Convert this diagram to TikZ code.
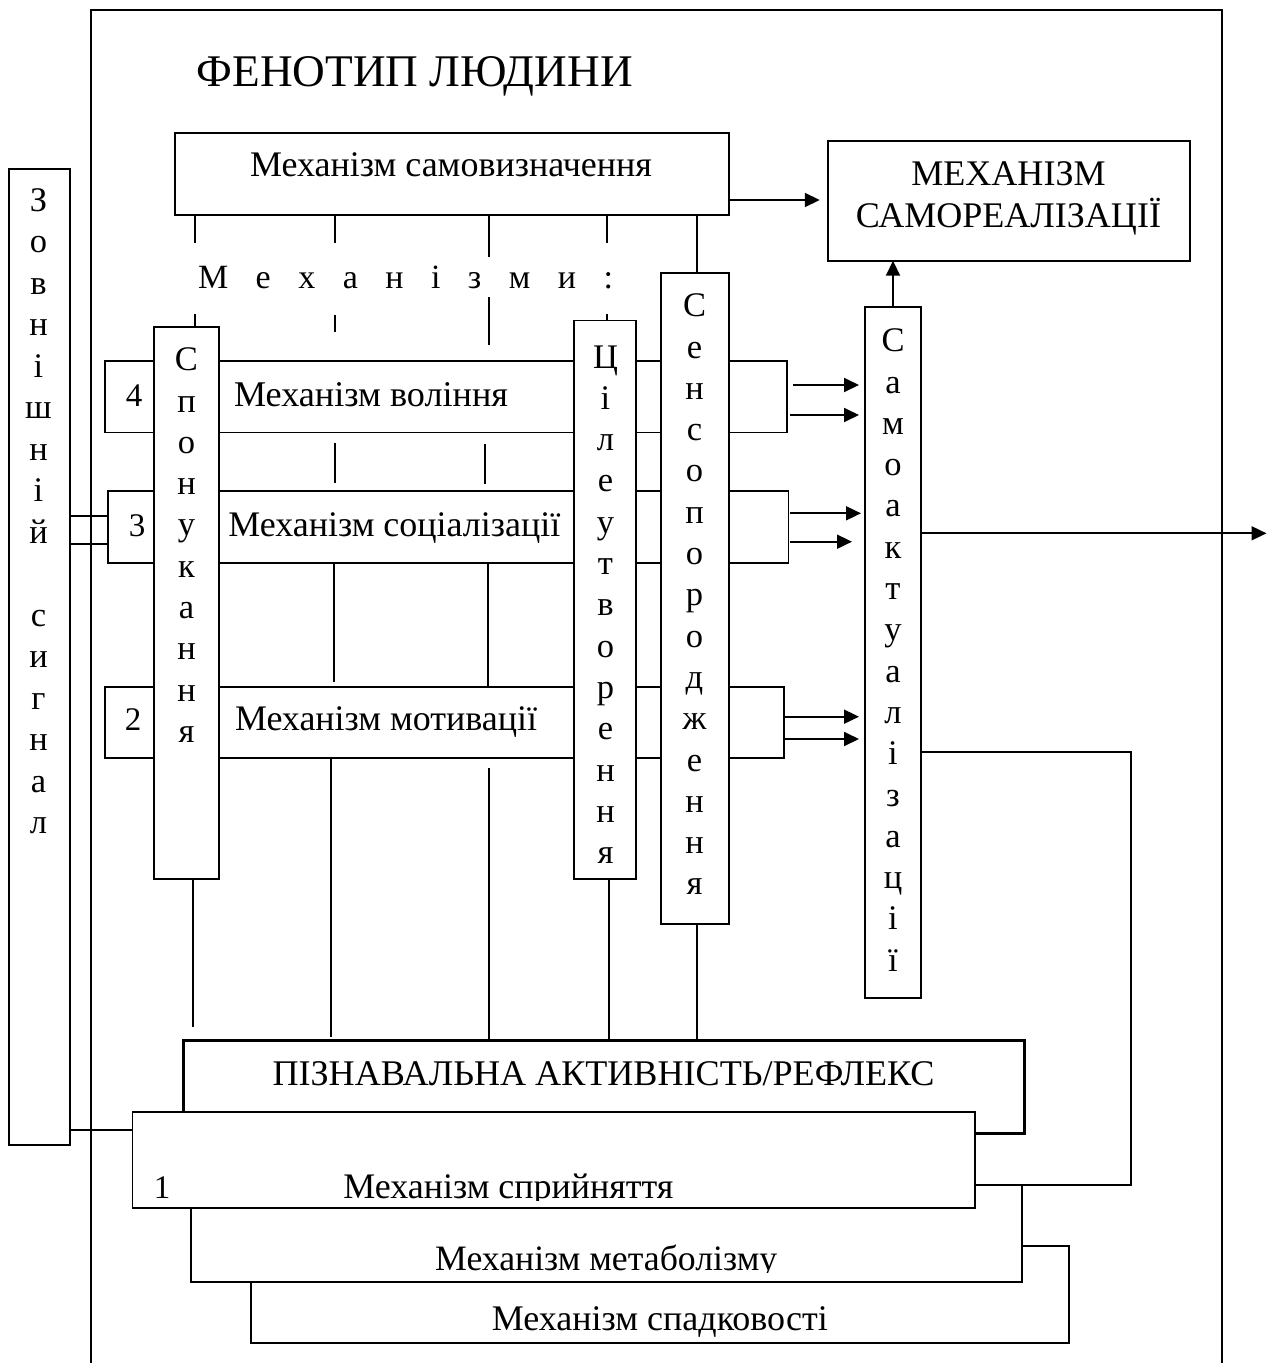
\documentclass[tikz,border=0pt]{standalone}
\usepackage{fontspec}
\setmainfont{Liberation Serif}[Script=Cyrillic]
\usepackage{graphicx}
\usetikzlibrary{arrows.meta,calc}

\tikzset{
  ln/.style={line width=1.8pt},
  box/.style={draw,line width=1.8pt,inner sep=0pt,outer sep=0pt,fill=white},
  txt/.style={inner sep=0pt,outer sep=0pt},
  vtxt/.style={txt,anchor=base,font=\fontsize{34.5}{41.3}\selectfont},
  num/.style={txt,anchor=base,font=\fontsize{33}{40}\selectfont},
  arr/.style={ln,-{Triangle[length=15pt,width=14pt]}},
}
\newcommand\rbox[6][]{\node[box,#1,anchor=north west,minimum width={(#5-#3)*1pt},minimum height={(#6-#4)*1pt}] (#2) at (#3,#4) {};}
\newcommand\fitw[2]{\resizebox{#1pt}{!}{\fontsize{30}{36}\selectfont #2}}
\newcommand\vstack[1]{\begin{tabular}[t]{@{}c@{}}#1\end{tabular}}

\begin{document}
\begin{tikzpicture}[x=1pt,y=-1pt]
\useasboundingbox (0,0) rectangle (1267,1363);

% outer frame
\draw[ln] (91,1363) -- (91,10) -- (1222,10) -- (1222,1363);
\node[txt,anchor=base west] (title) at (196.7,86) {\fitw{436}{ФЕНОТИП ЛЮДИНИ}};

% top boxes
\rbox{sd}{175.3}{133}{728.8}{215}
\rbox{sr}{827.8}{140.7}{1190}{260.7}

% horizontal mechanism boxes
\rbox[fill=none]{b4}{105.3}{360.7}{786.8}{432.5}
\rbox[fill=none]{b3}{108}{490.7}{788.5}{563.3}
\rbox[fill=none]{b2}{105}{686.7}{784.3}{758.3}

% vertical boxes
\rbox{zs}{9}{169.3}{69.7}{1145}
\rbox{sp}{154}{327}{219.3}{879.3}
\rbox{ct}{574}{320.5}{635.7}{879.3}
\rbox{ss}{660.7}{273}{728.6}{924}
\rbox{sa}{865}{306.7}{921}{997.7}

% bottom stack
\rbox{spad}{251}{1246}{1069}{1342.7}
\rbox{met}{191}{1185}{1022.3}{1281.7}
\rbox[line width=3pt]{piz}{183.2}{1040.7}{1024.8}{1133.3}
\rbox{spr}{132.4}{1112.3}{974.7}{1208.3}

% texts
\node[txt,anchor=base west] (sdt) at (250,176.7) {\fitw{402}{Механізм самовизначення}};
\node[txt,anchor=base] (srt) at (1008.5,185) {\resizebox{305pt}{!}{\fontsize{30}{35}\selectfont\begin{tabular}[t]{@{}c@{}}МЕХАНІЗМ\\САМОРЕАЛІЗАЦІЇ\end{tabular}}};
\node[txt,anchor=base west,font=\fontsize{34}{40}\selectfont] (mech) at (198,288.3)
  {\makebox[415pt][s]{М\hfill е\hfill х\hfill а\hfill н\hfill і\hfill з\hfill м\hfill и\hfill :}};

\node[num] (n4) at (134,406) {4};
\node[txt,anchor=base west] (b4t) at (234,406) {\fitw{274}{Механізм воління}};
\node[num] (n3) at (137,536) {3};
\node[txt,anchor=base west] (b3t) at (228.3,536) {\fitw{332}{Механізм соціалізації}};
\node[num] (n2) at (133,730) {2};
\node[txt,anchor=base west] (b2t) at (235,730) {\fitw{302}{Механізм мотивації}};

\node[vtxt,font=\fontsize{34.5}{41.5}\selectfont] (zst) at (38.5,211) {\vstack{З\\о\\в\\н\\і\\ш\\н\\і\\й\\ \\с\\и\\г\\н\\а\\л}};
\node[vtxt] (spt) at (186.5,370.7) {\vstack{С\\п\\о\\н\\у\\к\\а\\н\\н\\я}};
\node[vtxt] (ctt) at (605.5,368) {\vstack{Ц\\і\\л\\е\\у\\т\\в\\о\\р\\е\\н\\н\\я}};
\node[vtxt] (sst) at (694.5,316.7) {\vstack{С\\е\\н\\с\\о\\п\\о\\р\\о\\д\\ж\\е\\н\\н\\я}};
\node[vtxt] (sat) at (893,351.7) {\vstack{С\\а\\м\\о\\а\\к\\т\\у\\а\\л\\і\\з\\а\\ц\\і\\ї}};

\node[txt,anchor=base west] (pizt) at (272.5,1085) {\fitw{662}{ПІЗНАВАЛЬНА АКТИВНІСТЬ/РЕФЛЕКС}};
\node[num] (n1) at (162,1198) {1};
\begin{scope}
  \clip (132.4,1112.3) rectangle (974.7,1200);
  \node[txt,anchor=base west] (sprt) at (343.4,1198) {\fitw{330}{Механізм сприйняття}};
\end{scope}
\begin{scope}
  \clip (191,1185) rectangle (1022.3,1272);
  \node[txt,anchor=base west] (mett) at (435.2,1270) {\fitw{342}{Механізм метаболізму}};
\end{scope}
\node[txt,anchor=base west] (spadt) at (491.8,1330) {\fitw{336}{Механізм спадковості}};

% connectors from self-determination (broken by the caption)
\draw[ln] (sd.south -| 195,0) -- (195,243);
\draw[ln] (195,314) -- (sp.north -| 195,0);
\draw[ln] (sd.south -| 335,0) -- (335,243);
\draw[ln] (335,315) -- (335,332);
\draw[ln] (sd.south -| 489,0) -- (489,257);
\draw[ln] (489,297) -- (489,345);
\draw[ln] (sd.south -| 607,0) -- (607,243);
\draw[ln] (607,314) -- (ct.north -| 607,0);
\draw[ln] (sd.south -| 696.6,0) -- (ss.north -| 696.6,0);

% between horizontal boxes
\draw[ln] (335,443) -- (335,483);
\draw[ln] (485,444) -- (485,484);
\draw[ln] (b3.south -| 334,0) -- (334,682);
\draw[ln] (b3.south -| 488,0) -- (b2.north -| 488,0);
\draw[ln] (b2.south -| 331,0) -- (331,1037);
\draw[ln] (489,768) -- (piz.north -| 489,0);
\draw[ln] (sp.south -| 192.6,0) -- (192.6,1027);
\draw[ln] (ct.south -| 609,0) -- (piz.north -| 609,0);
\draw[ln] (ss.south -| 696.6,0) -- (piz.north -| 696.6,0);

% external signal
\draw[ln] (zs.east |- 0,516) -- (b3.west |- 0,516);
\draw[ln] (zs.east |- 0,544) -- (b3.west |- 0,544);
\draw[ln] (zs.east |- 0,1130) -- (spr.west |- 0,1130);

% arrows
\draw[arr,shorten >=8pt] (sd.east |- 0,200) -- (sr.west |- 0,200);
\draw[arr] (sa.north) -- (sr.south -| sa.north);
\draw[arr,shorten <=6pt,shorten >=6pt] (b4.east |- 0,385) -- (sa.west |- 0,385);
\draw[arr,shorten <=3pt,shorten >=6pt] (b4.east |- 0,415) -- (sa.west |- 0,415);
\draw[arr,shorten <=1pt,shorten >=4pt] (b3.east |- 0,513.3) -- (sa.west |- 0,513.3);
\draw[arr,shorten <=1pt,shorten >=13pt] (b3.east |- 0,541.7) -- (sa.west |- 0,541.7);
\draw[arr,shorten <=1pt,shorten >=6pt] (b2.east |- 0,716.7) -- (sa.west |- 0,716.7);
\draw[arr,shorten <=1pt,shorten >=6pt] (b2.east |- 0,739) -- (sa.west |- 0,739);
\coordinate (out) at (1266.5,533.3);
\draw[arr] (sa.east |- out) -- (out);

% feedback
\coordinate (fb) at (1131,1185);
\draw[ln] (sa.east |- 0,751.7) -| (fb) -- (spr.east |- fb);
\end{tikzpicture}
\end{document}
